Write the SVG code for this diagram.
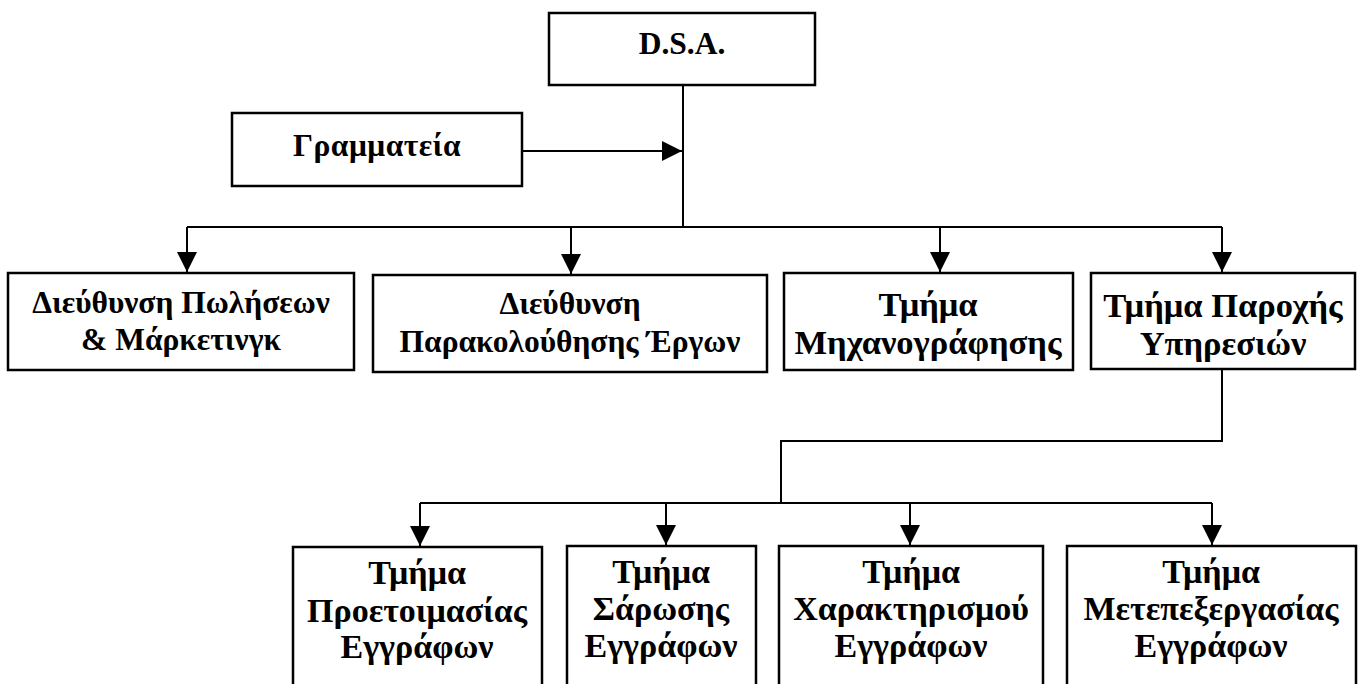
<svg xmlns="http://www.w3.org/2000/svg" width="1360" height="684" viewBox="0 0 1360 684">
  <style>
    .box { fill: #ffffff; stroke: #000000; stroke-width: 2.5; }
    .conn { fill: none; stroke: #000000; stroke-width: 2; }
    text { font-family: "Liberation Serif", "Times New Roman", serif; font-weight: bold; fill: #000000; text-anchor: middle; }
    .t1 { font-size: 31.5px; }
    .t2 { font-size: 34.5px; }
    .t3 { font-size: 34px; }
  </style>
  <defs>
    <marker id="arrow" viewBox="0 0 10 10" refX="10" refY="5" markerUnits="userSpaceOnUse" markerWidth="20" markerHeight="20" orient="auto">
      <path d="M0,0 L10,5 L0,10 z" fill="#000000"/>
    </marker>
  </defs>
  <rect width="1360" height="684" fill="#ffffff"/>

  <g id="connectors">
    <path class="conn" d="M683,85 V227"/>
    <path class="conn" d="M522,151 H682" marker-end="url(#arrow)"/>
    <path class="conn" d="M187,227 H1222"/>
    <path class="conn" d="M187,227 V272" marker-end="url(#arrow)"/>
    <path class="conn" d="M571,227 V274" marker-end="url(#arrow)"/>
    <path class="conn" d="M940,227 V272" marker-end="url(#arrow)"/>
    <path class="conn" d="M1222,227 V272" marker-end="url(#arrow)"/>
    <path class="conn" d="M1222,370 V441 H781 V503"/>
    <path class="conn" d="M420,503 H1212"/>
    <path class="conn" d="M420,503 V546" marker-end="url(#arrow)"/>
    <path class="conn" d="M666,503 V545" marker-end="url(#arrow)"/>
    <path class="conn" d="M910,503 V545" marker-end="url(#arrow)"/>
    <path class="conn" d="M1212,503 V545" marker-end="url(#arrow)"/>
  </g>

  <g id="dsa">
    <rect class="box" x="549" y="13" width="266" height="72"/>
    <text class="t1" x="682" y="54">D.S.A.</text>
  </g>
  <g id="grammateia">
    <rect class="box" x="232" y="113" width="290" height="73"/>
    <text class="t1" x="377" y="156" letter-spacing="0.5">Γραμματεία</text>
  </g>
  <g id="sales">
    <rect class="box" x="8" y="273" width="346" height="97"/>
    <text class="t1" x="181" y="313">Διεύθυνση Πωλήσεων</text>
    <text class="t1" x="181" y="350">&amp; Μάρκετινγκ</text>
  </g>
  <g id="projects">
    <rect class="box" x="373" y="275" width="394" height="97"/>
    <text class="t1" x="570" y="314">Διεύθυνση</text>
    <text class="t1" x="570" y="352">Παρακολούθησης Έργων</text>
  </g>
  <g id="it">
    <rect class="box" x="784" y="273" width="289" height="97"/>
    <text class="t2" x="928" y="316">Τμήμα</text>
    <text class="t2" x="928" y="354">Μηχανογράφησης</text>
  </g>
  <g id="services">
    <rect class="box" x="1091" y="273" width="264" height="96"/>
    <text class="t2" x="1223" y="317">Τμήμα Παροχής</text>
    <text class="t2" x="1223" y="355">Υπηρεσιών</text>
  </g>
  <g id="prep">
    <rect class="box" x="293" y="547" width="249" height="160"/>
    <text class="t3" x="417" y="584">Τμήμα</text>
    <text class="t3" x="417" y="622">Προετοιμασίας</text>
    <text class="t3" x="417" y="658">Εγγράφων</text>
  </g>
  <g id="scan">
    <rect class="box" x="567" y="546" width="189" height="160"/>
    <text class="t3" x="661" y="583">Τμήμα</text>
    <text class="t3" x="661" y="620">Σάρωσης</text>
    <text class="t3" x="661" y="657">Εγγράφων</text>
  </g>
  <g id="classify">
    <rect class="box" x="779" y="546" width="264" height="160"/>
    <text class="t3" x="911" y="583">Τμήμα</text>
    <text class="t3" x="911" y="620">Χαρακτηρισμού</text>
    <text class="t3" x="911" y="657">Εγγράφων</text>
  </g>
  <g id="postproc">
    <rect class="box" x="1067" y="546" width="289" height="160"/>
    <text class="t3" x="1211" y="583">Τμήμα</text>
    <text class="t3" x="1211" y="620">Μετεπεξεργασίας</text>
    <text class="t3" x="1211" y="657">Εγγράφων</text>
  </g>
</svg>
